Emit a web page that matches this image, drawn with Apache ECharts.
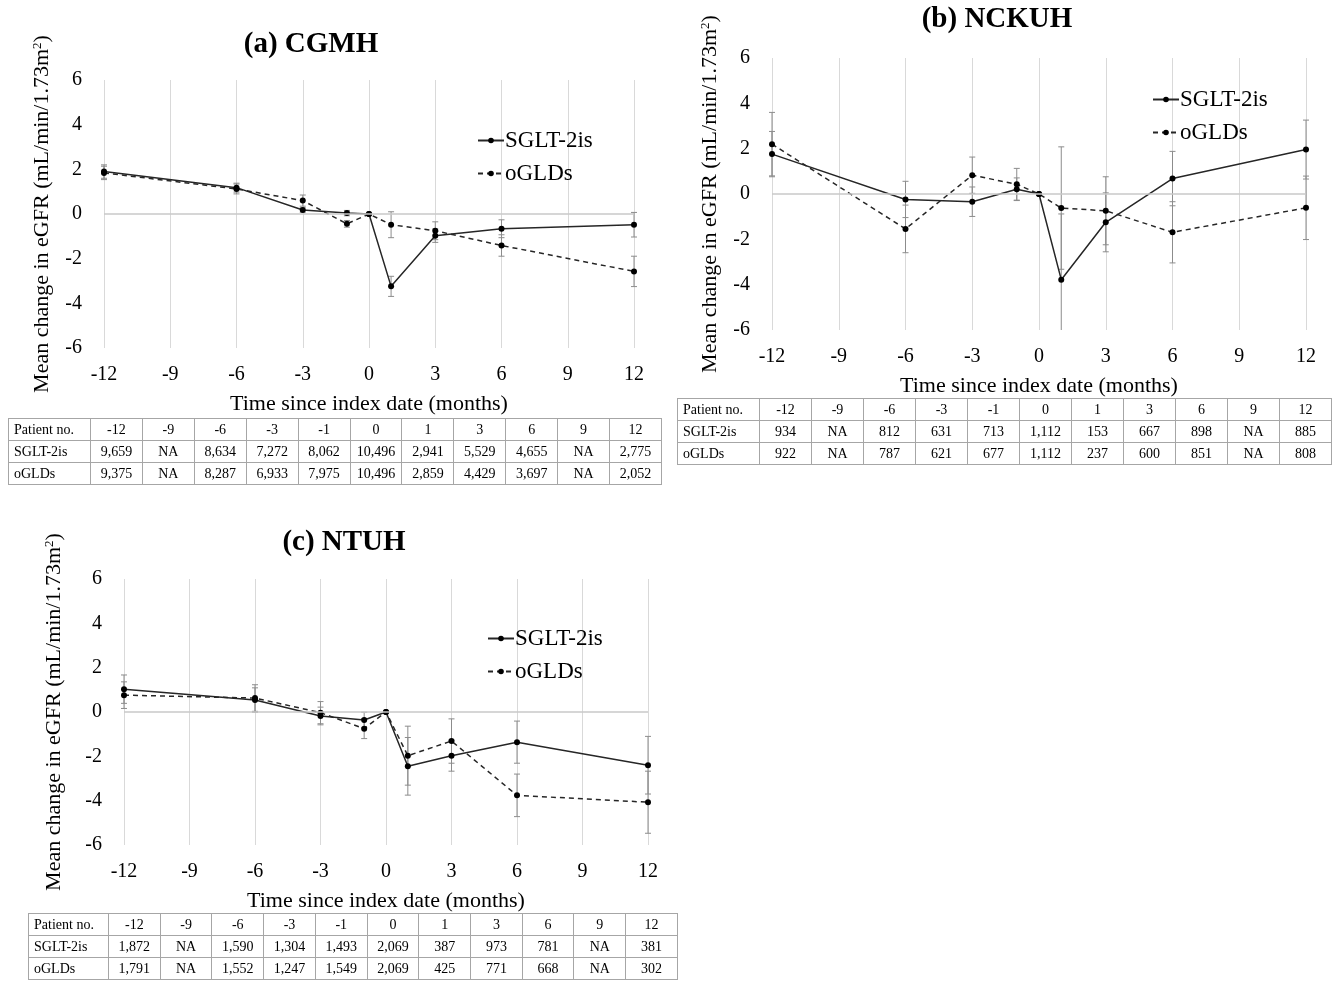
<!DOCTYPE html>
<html><head><meta charset="utf-8">
<script src="https://cdn.jsdelivr.net/npm/echarts@6/dist/echarts.min.js"></script>
<style>
html,body{margin:0;padding:0;background:#fff;}
#chart{position:absolute;left:0;top:0;width:1337px;height:982px;}
table.pt{position:absolute;border-collapse:collapse;table-layout:fixed;font-family:"Liberation Serif",serif;font-size:14px;color:#000;}
table.pt td{border:1px solid #a6a6a6;text-align:center;height:21px;padding:0;white-space:nowrap;}
table.pt td:first-child{text-align:left;padding-left:5px;}
</style></head><body>
<div id="chart"></div>
<script>
// ---- data ----
const months = [-12, -6, -3, -1, 0, 1, 3, 6, 12];

const cgmhSglt    = [1.90, 1.18, 0.18, 0.04, 0, -3.24, -0.97, -0.66, -0.48];
const cgmhSgltErr = [0.30, 0.20, 0.10, 0.12, 0, 0.45, 0.30, 0.40, 0.55];
const cgmhOgld    = [1.84, 1.12, 0.60, -0.44, 0, -0.48, -0.75, -1.41, -2.57];
const cgmhOgldErr = [0.30, 0.22, 0.25, 0.15, 0, 0.58, 0.40, 0.48, 0.68];

const nckuSglt    = [1.76, -0.24, -0.34, 0.21, 0, -3.78, -1.25, 0.68, 1.96];
const nckuSgltErr = [1.00, 0.80, 0.65, 0.50, 0, 2.90, 1.30, 1.20, 1.30];
const nckuOgld    = [2.20, -1.54, 0.83, 0.43, 0, -0.62, -0.74, -1.69, -0.61];
const nckuOgldErr = [1.40, 1.05, 0.80, 0.70, 0, 2.70, 1.50, 1.35, 1.40];

const ntuhSglt    = [1.03, 0.54, -0.18, -0.36, 0, -2.45, -1.97, -1.36, -2.40];
const ntuhSgltErr = [0.64, 0.55, 0.40, 0.35, 0, 1.30, 0.70, 0.95, 1.30];
const ntuhOgld    = [0.76, 0.63, -0.03, -0.75, 0, -1.97, -1.31, -3.76, -4.07];
const ntuhOgldErr = [0.60, 0.60, 0.50, 0.45, 0, 1.33, 1.00, 0.96, 1.40];

const tableHeader = ['-12', '-9', '-6', '-3', '-1', '0', '1', '3', '6', '9', '12'];
const cgmhSgltN = ['9,659', 'NA', '8,634', '7,272', '8,062', '10,496', '2,941', '5,529', '4,655', 'NA', '2,775'];
const cgmhOgldN = ['9,375', 'NA', '8,287', '6,933', '7,975', '10,496', '2,859', '4,429', '3,697', 'NA', '2,052'];
const nckuSgltN = ['934', 'NA', '812', '631', '713', '1,112', '153', '667', '898', 'NA', '885'];
const nckuOgldN = ['922', 'NA', '787', '621', '677', '1,112', '237', '600', '851', 'NA', '808'];
const ntuhSgltN = ['1,872', 'NA', '1,590', '1,304', '1,493', '2,069', '387', '973', '781', 'NA', '381'];
const ntuhOgldN = ['1,791', 'NA', '1,552', '1,247', '1,549', '2,069', '425', '771', '668', 'NA', '302'];

const panelTitles = ['(a) CGMH', '(b) NCKUH', '(c) NTUH'];
const seriesNames = ['SGLT-2is', 'oGLDs'];
const rowLabel = 'Patient no.';
const xTitle = 'Time since index date (months)';

// ---- layout ----
const FONT = '"Liberation Serif", "Times New Roman", serif';
const panels = [
  {title: panelTitles[0], tx: 311, ty: 45, grid: {left: 104, top: 80, width: 530, height: 268}, yGap: 50, legend: {left: 472, top: 124},
   s: cgmhSglt, se: cgmhSgltErr, o: cgmhOgld, oe: cgmhOgldErr,
   table: {left: 8, top: 418, width: 653, first: 82}, sn: cgmhSgltN, on: cgmhOgldN},
  {title: panelTitles[1], tx: 997, ty: 20, grid: {left: 772, top: 58, width: 534, height: 272}, yGap: 50, legend: {left: 1147, top: 83},
   s: nckuSglt, se: nckuSgltErr, o: nckuOgld, oe: nckuOgldErr,
   table: {left: 677, top: 398, width: 654, first: 82}, sn: nckuSgltN, on: nckuOgldN},
  {title: panelTitles[2], tx: 344, ty: 543, grid: {left: 124, top: 579, width: 524, height: 266}, yGap: 58, legend: {left: 482, top: 622},
   s: ntuhSglt, se: ntuhSgltErr, o: ntuhOgld, oe: ntuhOgldErr,
   table: {left: 28, top: 913, width: 649, first: 80}, sn: ntuhSgltN, on: ntuhOgldN}
];

function errRender(params, api) {
  const x = api.value(0), y = api.value(1), e = api.value(2);
  const cs = params.coordSys;
  if (!e) return {type: 'group', children: []};
  const lo = cs.y, hi = cs.y + cs.height;
  const p = api.coord([x, y]);
  let top = api.coord([x, y + e])[1];
  let bot = api.coord([x, y - e])[1];
  const children = [];
  const st = {stroke: '#8c8c8c', lineWidth: 1};
  const hw = 3;
  if (top >= lo) children.push({type: 'line', shape: {x1: p[0] - hw, y1: top, x2: p[0] + hw, y2: top}, style: st});
  if (bot <= hi) children.push({type: 'line', shape: {x1: p[0] - hw, y1: bot, x2: p[0] + hw, y2: bot}, style: st});
  top = Math.max(lo, top); bot = Math.min(hi, bot);
  children.push({type: 'line', shape: {x1: p[0], y1: top, x2: p[0], y2: bot}, style: st});
  return {type: 'group', children};
}

const grids = [], xAxes = [], yAxes = [], series = [], legends = [], graphics = [];
panels.forEach((pn, i) => {
  grids.push(pn.grid);
  xAxes.push({
    type: 'value', gridIndex: i, min: -12, max: 12, interval: 3,
    axisLine: {show: false}, axisTick: {show: false},
    splitLine: {show: true, lineStyle: {color: '#d9d9d9', width: 1}},
    axisLabel: {color: '#000', fontFamily: FONT, fontSize: 20, margin: 17},
    name: xTitle, nameLocation: 'middle', nameGap: 45,
    nameTextStyle: {color: '#000', fontFamily: FONT, fontSize: 22}
  });
  yAxes.push({
    type: 'value', gridIndex: i, min: -6, max: 6, interval: 2,
    axisLine: {show: false}, axisTick: {show: false}, splitLine: {show: false},
    axisLabel: {color: '#000', fontFamily: FONT, fontSize: 20, margin: 22},
    name: 'Mean change in eGFR (mL/min/1.73m{sup|2})', nameLocation: 'middle', nameGap: pn.yGap,
    nameTextStyle: {color: '#000', fontFamily: FONT, fontSize: 22,
      rich: {sup: {fontFamily: FONT, fontSize: 13, verticalAlign: 'top', padding: [0, 0, 10, 0], color: '#000'}}}
  });
  const pairs = [[pn.s, pn.se], [pn.o, pn.oe]];
  pairs.forEach(pr => {
    series.push({
      type: 'custom', xAxisIndex: i, yAxisIndex: i, renderItem: errRender, silent: true, z: 1,
      data: months.map((m, j) => [m, pr[0][j], pr[1][j]])
    });
  });
  pairs.forEach((pr, k) => {
    const s = {
      name: seriesNames[k], type: 'line', xAxisIndex: i, yAxisIndex: i, z: 3,
      data: months.map((m, j) => [m, pr[0][j]]),
      symbol: 'circle', symbolSize: 6, showSymbol: true,
      itemStyle: {color: '#000'},
      lineStyle: {color: '#262626', width: 1.5, type: k === 0 ? 'solid' : [5, 4]},
      animation: false
    };
    if (k === 0) {
      s.markLine = {silent: true, symbol: 'none', label: {show: false}, animation: false,
        lineStyle: {color: '#c8c8c8', width: 1.5, type: 'solid'}, data: [{yAxis: 0}]};
    }
    series.push(s);
  });
  legends.push({
    orient: 'vertical', left: pn.legend.left, top: pn.legend.top, itemGap: 10,
    itemWidth: 26, itemHeight: 7, data: seriesNames,
    textStyle: {color: '#000', fontFamily: FONT, fontSize: 23, padding: [0, 0, 0, -4]}
  });
  graphics.push({type: 'text', x: pn.tx, y: pn.ty,
    style: {text: pn.title, fill: '#000', font: 'bold 29px ' + FONT, textAlign: 'center', textVerticalAlign: 'middle'}});
});

const chart = echarts.init(document.getElementById('chart'), null, {renderer: 'canvas'});
chart.setOption({
  animation: false,
  backgroundColor: '#fff',
  grid: grids, xAxis: xAxes, yAxis: yAxes, series, legend: legends, graphic: graphics
});

// ---- patient-number tables ----
panels.forEach(pn => {
  const t = document.createElement('table');
  t.className = 'pt';
  t.style.left = pn.table.left + 'px';
  t.style.top = pn.table.top + 'px';
  t.style.width = pn.table.width + 'px';
  const cg = document.createElement('colgroup');
  const c0 = document.createElement('col'); c0.style.width = pn.table.first + 'px'; cg.appendChild(c0);
  const rest = (pn.table.width - pn.table.first) / tableHeader.length;
  tableHeader.forEach(() => { const c = document.createElement('col'); c.style.width = rest + 'px'; cg.appendChild(c); });
  t.appendChild(cg);
  const rows = [[rowLabel].concat(tableHeader), [seriesNames[0]].concat(pn.sn), [seriesNames[1]].concat(pn.on)];
  rows.forEach(r => {
    const tr = document.createElement('tr');
    r.forEach(v => { const td = document.createElement('td'); td.textContent = v; tr.appendChild(td); });
    t.appendChild(tr);
  });
  document.body.appendChild(t);
});
</script>
</body></html>
